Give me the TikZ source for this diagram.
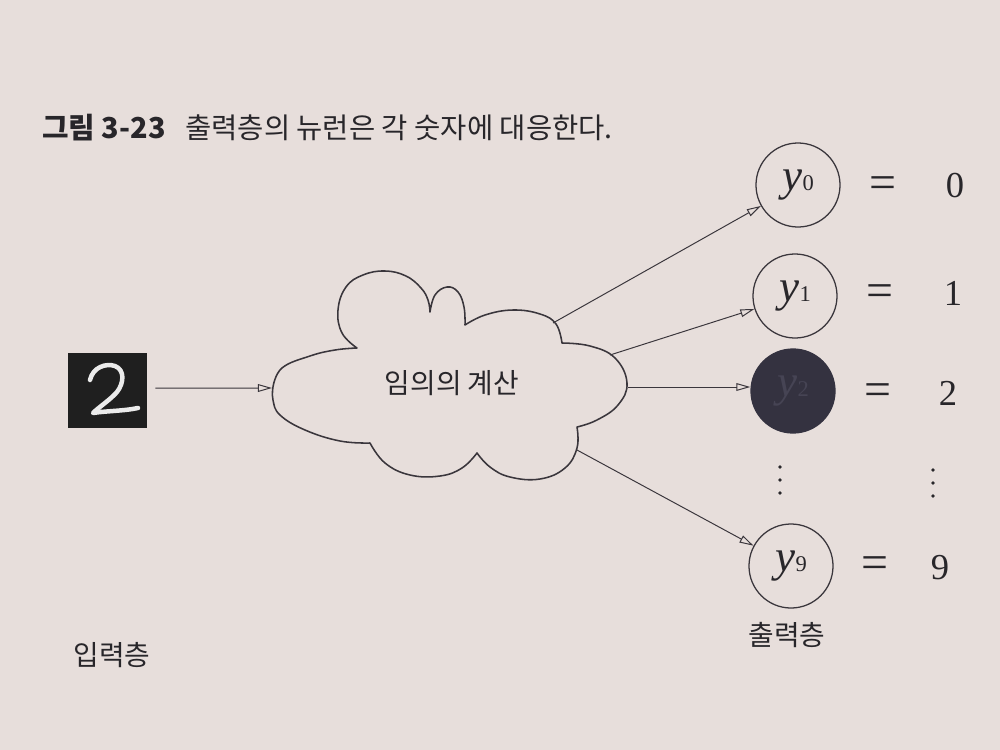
\documentclass[tikz,border=0pt]{standalone}
\usepackage{fontspec}
\setmainfont{Liberation Serif}
\newfontfamily\kr{Noto Sans CJK KR}
\usetikzlibrary{arrows.meta}
\definecolor{paper}{RGB}{231,222,219}
\definecolor{ink}{RGB}{58,54,60}
\definecolor{txt}{RGB}{40,38,42}
\definecolor{dark}{RGB}{52,50,64}
\definecolor{darktxt}{RGB}{70,68,84}
\newcommand\ylab[1]{\textit{y}\kern0.5pt{\fontsize{16}{16}\selectfont #1}}
\begin{document}
\begin{tikzpicture}[x=0.025cm,y=-0.025cm,
  krtext/.style={font=\kr\fontsize{19.8}{22}\selectfont, text=txt, inner sep=0pt},
  neuron/.style={circle, draw=ink, line width=0.9pt, minimum size=2.1cm, inner sep=0pt,
                 font=\fontsize{32}{34}\selectfont, text=txt},
  eqtext/.style={font=\fontsize{34}{34}\selectfont, text=txt, inner sep=0pt},
  numtext/.style={font=\fontsize{26}{28}\selectfont, text=txt, inner sep=0pt},
  arr/.style={draw=ink, line width=0.7pt, -{Triangle[open, length=10pt, width=5.5pt]}},
  cloudline/.style={draw=ink, line width=1.1pt, line join=round},
  vdot/.style={circle, fill=txt, inner sep=0pt, minimum size=0.09cm}]
\fill[paper] (0,0) rectangle (1000,750);
\useasboundingbox (0,0) rectangle (1000,750);

% title
\node[krtext, font=\kr\bfseries\fontsize{20.5}{22}\selectfont, anchor=west] (fig) at (42,128) {그림 3-23};
\node[krtext, font=\kr\fontsize{20.3}{22}\selectfont, anchor=west] (cap) at (185,128) {출력층의 뉴런은 각 숫자에 대응한다.};

% input image
\node[fill=black!88, minimum width=1.975cm, minimum height=1.875cm, inner sep=0pt] (inp) at (107.5,390.5) {};
\draw[white!92!black, line width=3.2pt, line cap=round, line join=round]
  (90,380) .. controls (93,367) and (106,363) .. (115,366)
  .. controls (125,370) and (124,383) .. (117,392)
  .. controls (110,400) and (99,407) .. (93,413)
  .. controls (105,411) and (124,411) .. (138,408);

% cloud
\draw[cloudline]
  plot[smooth, tension=0.7] coordinates {(273,387) (282,368) (310,356) (335,350) (357,348)}
  -- plot[smooth, tension=0.7] coordinates {(357,348) (342,333) (338,310) (346,287) (363,275) (385,271) (406,276) (421,288) (428,300) (430,312)}
  -- plot[smooth, tension=0.7] coordinates {(430,312) (435,295) (447,287) (458,292) (464,307) (465,325)}
  -- plot[smooth, tension=0.7] coordinates {(465,325) (485,315) (513,310) (540,314) (556,324) (562,343)}
  -- plot[smooth, tension=0.7] coordinates {(562,343) (590,346) (615,358) (627,383) (618,405) (597,420) (577,427)}
  -- plot[smooth, tension=0.7] coordinates {(577,427) (577,448) (565,468) (540,479) (510,477) (490,467) (477,453)}
  -- plot[smooth, tension=0.7] coordinates {(477,453) (462,468) (440,476) (410,475) (385,463) (370,443)}
  -- plot[smooth, tension=0.7] coordinates {(370,443) (340,441) (305,430) (280,415) (273,400) (273,387)}
  -- cycle;
\node[krtext] (cloud) at (452,383) {임의의 계산};
\coordinate (cin) at (272,388);
\coordinate (c0) at (553,323);
\coordinate (c1) at (610,355);
\coordinate (c2) at (628,387);
\coordinate (c9) at (577,450);

% output neurons
\node[neuron] (y0) at (798,185) {\ylab{0}};
\node[neuron] (y1) at (795,296) {\ylab{1}};
\node[neuron, fill=dark, draw=dark, text=darktxt] (y2) at (793,391) {\ylab{2}};
\node[neuron] (y9) at (791,566) {\ylab{9}};

\node[eqtext] (e0) at (883,188) {=};
\node[eqtext] (e1) at (880,296) {=};
\node[eqtext] (e2) at (878,395) {=};
\node[eqtext] (e9) at (875,568) {=};
\node[numtext] (n0) at (955,186) {0};
\node[numtext] (n1) at (953,293) {1};
\node[numtext] (n2) at (948,393) {2};
\node[numtext] (n9) at (940,568) {9};

\node[vdot] (d1) at (780,467) {};
\node[vdot] (d2) at (780,480) {};
\node[vdot] (d3) at (780,493) {};
\node[vdot] (d4) at (933,470) {};
\node[vdot] (d5) at (933,483) {};
\node[vdot] (d6) at (933,496) {};

% connectors
\draw[arr] ([xshift=0.2cm,yshift=0.06cm]inp.east) -- (cin);
\draw[arr] (c0) -- (y0);
\draw[arr] (c1) -- (y1);
\draw[arr] (c2) -- (y2.west |- c2);
\draw[arr] (c9) -- (y9);

% layer labels
\node[krtext] (inlab) at (112,655) {입력층};
\node[krtext] (outlab) at (787,635) {출력층};
\end{tikzpicture}
\end{document}
